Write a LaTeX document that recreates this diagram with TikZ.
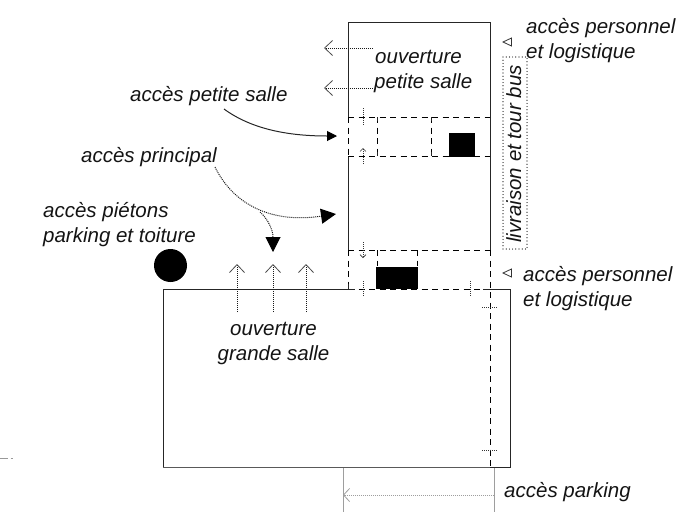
\documentclass[tikz,border=0pt]{standalone}
\usepackage{fontspec}
\setmainfont{Liberation Sans}
\usetikzlibrary{arrows.meta}
\tikzset{
 lab/.style={font=\fontsize{20.5}{25}\selectfont\itshape,align=left,inner sep=0pt,anchor=base west,text=black!92},
 wall/.style={draw=black!85,line width=0.9pt},
 dashwall/.style={draw=black,line width=0.9pt,dash pattern=on 6pt off 4.5pt},
 dotline/.style={draw=black!90,line width=1pt,dash pattern=on 1pt off 1pt},
 openarrow/.style={dotline,-{Straight Barb[length=8pt,width=15pt,line width=0.8pt,black!70]}},
 solidtip/.style={-{Triangle[length=10pt,width=10pt,black]}},
 bigtip/.style={-{Triangle[length=15pt,width=15pt,black]}},
 ticksmall/.style={draw=black!80,line width=0.9pt,dash pattern=on 1pt off 1pt},
 tri/.style={draw=black!80,line width=0.8pt,fill=white},
 grayline/.style={draw=black!38,line width=1pt},
}
\begin{document}
\begin{tikzpicture}[x=1pt,y=-1pt]
\useasboundingbox (0,0) rectangle (688,512);
% walls
\coordinate (tl) at (348,22); \coordinate (tr) at (490,22);
\draw[wall] (348,117) -- (tl) -- (tr) -- (490,250);
\draw[wall] (348,156) -- (348,250);
\draw[wall] (348,289) -- (163,289) -- (163,467.5);
\draw[wall,draw=black!65] (163,467.5) -- (490,467.5);
\draw[wall] (490,467.5) -- (510,467.5) -- (510,289) -- (483,289);
% dashed
\draw[dashwall] (348,117) -- (490,117) (348,156) -- (490,156);
\draw[dashwall] (348,117) -- (348,156);
\draw[dashwall] (377,117) -- (377,156) (431,117) -- (431,156);
\draw[dashwall] (348,250) -- (490,250) (348,250) -- (348,289);
\draw[dashwall] (348,289) -- (483,289);
\draw[dashwall] (490,250) -- (490,467);
\draw[dashwall] (377,250) -- (377,266) (417,250) -- (417,266);
% solid ticks
\draw[wall] (377,117)--(377,121) (431,117)--(431,121) (377,156)--(377,152) (431,156)--(431,152);
\draw[wall] (348,284)--(348,289)--(355,289);
% black shapes
\fill[black] (449,133) rectangle (475,157);
\fill[black] (376,267) rectangle (418,289);
\node[circle,fill=black,minimum size=33pt,inner sep=0pt] (dot) at (170.5,265.5) {};
% small ticks
\draw[ticksmall] (363,108)--(363,125);
\draw[ticksmall,-{Straight Barb[length=3pt,width=6pt,line width=0.6pt]}] (363,164)--(363,148);
\draw[ticksmall,-{Straight Barb[length=3pt,width=6pt,line width=0.6pt]}] (363,242)--(363,258);
\draw[ticksmall] (363,281)--(363,297);
\draw[ticksmall] (470,281)--(470,297);
\draw[ticksmall] (482,307)--(498,307);
\draw[ticksmall] (482,450)--(498,450);
% openings
\node[lab] (ouv1) at (375,63) {ouverture};
\node[lab] (ouv2) at (374,88) {petite salle};
\coordinate (o1) at (373,48); \coordinate (o1t) at (324,48);
\coordinate (o2) at (373,88); \coordinate (o2t) at (324,88);
\draw[openarrow] (o1) -- (o1t);
\draw[openarrow] (o2) -- (o2t);
\coordinate (g1) at (237,312); \coordinate (g2) at (273,312); \coordinate (g3) at (306,312);
\draw[openarrow] (g1) -- (237,264);
\draw[openarrow] (g2) -- (273,264);
\draw[openarrow] (g3) -- (306,264);
% labels
\node[lab] (ap) at (130,101) {accès petite salle};
\node[lab] (apr) at (81,162) {accès principal};
\node[lab] (pie1) at (43,217) {accès piétons};
\node[lab] (pie2) at (43,242) {parking et toiture};
\node[lab] (per1) at (526,33) {accès personnel};
\node[lab] (per1b) at (526,58) {et logistique};
\node[lab] (per2) at (523,281) {accès personnel};
\node[lab] (per2b) at (523,306) {et logistique};
\node[lab,anchor=base] (gs1) at (273.5,335) {ouverture};
\node[lab,anchor=base] (gs2) at (273.5,360) {grande salle};
\node[lab] (park) at (504,497) {accès parking};
% curves
\coordinate (a1) at (337,136); \coordinate (a2) at (336,214); \coordinate (a3) at (273,252);
\draw[draw=black!85,line width=1pt,solidtip] (224,109) .. controls (250,128) and (285,136) .. (a1);
\draw[dotline,bigtip] (215,167) .. controls (232,202) and (268,224) .. (a2);
\draw[dotline,bigtip] (260,212) .. controls (268,219) and (273,230) .. (a3);
% triangles
\draw[tri] (503,42)--(511.5,38)--(511.5,46)--cycle;
\draw[tri] (503,273)--(511.5,269)--(511.5,277)--cycle;
% bus box
\draw[black,line width=1.2pt,line cap=round,dash pattern=on 0pt off 3.2pt] (503,57) rectangle (527,249);
\node[lab,rotate=90] (bus) at (521,243) {livraison et tour bus};
% parking
\draw[grayline] (343,468)--(343,512) (494,468)--(494,512);
\draw[grayline,dash pattern=on 1pt off 1pt,-{Straight Barb[length=6pt,width=13pt,line width=0.8pt,black!38]}] (494,495)--(343,495);
% stray
\draw[draw=black!40,line width=0.9pt] (0,458.3)--(8,458.3) (10.5,458.3)--(13,458.3);
\end{tikzpicture}
\end{document}
